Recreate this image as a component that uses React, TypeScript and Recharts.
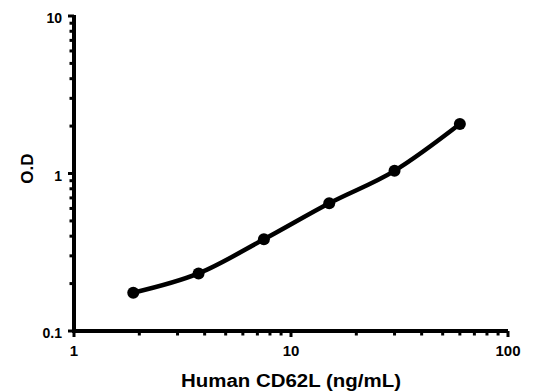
import React from 'react';
import { LineChart, Line, XAxis, YAxis } from 'recharts';

// standard curve: concentration (ng/mL) vs O.D, both on log scales
const concentrations = [1.875, 3.75, 7.5, 15, 30, 60];
const odValues = [0.175, 0.232, 0.382, 0.647, 1.04, 2.06];

const xTicks = [1, 2, 3, 4, 5, 6, 7, 8, 9, 10, 20, 30, 40, 50, 60, 70, 80, 90, 100];
const yTicks = [0.1, 0.2, 0.3, 0.4, 0.5, 0.6, 0.7, 0.8, 0.9, 1, 2, 3, 4, 5, 6, 7, 8, 9, 10];

const xTitle = 'Human CD62L (ng/mL)';
const yTitle = 'O.D';

const data = concentrations.map((c, i) => ({ conc: c, od: odValues[i] }));

const FONT = '"Liberation Sans", Arial, sans-serif';

// layout
const W = 547;
const H = 392;
const MARGIN = { top: 16, right: 39, left: 14, bottom: 21 };
const Y_AXIS_W = 60;
const X_AXIS_H = 40;
const plotLeft = MARGIN.left + Y_AXIS_W;
const plotRight = W - MARGIN.right;
const plotTop = MARGIN.top;
const plotBottom = H - MARGIN.bottom - X_AXIS_H;

const isDecade = (v: number) => {
  const l = Math.log10(v);
  return Math.abs(l - Math.round(l)) < 1e-6;
};

const XTick = ({ x, y, payload }: any) => {
  const major = isDecade(payload.value);
  return (
    <g>
      <line x1={x} y1={y} x2={x} y2={y + (major ? 6 : 4.5)} stroke="#000" strokeWidth={3} />
      {major && (
        <text x={x} y={y + 25} textAnchor="middle" fontFamily={FONT} fontWeight="bold" fontSize={15} fill="#000">
          {String(payload.value)}
        </text>
      )}
    </g>
  );
};

const YTick = ({ x, y, payload }: any) => {
  const major = isDecade(payload.value);
  return (
    <g>
      <line x1={x - (major ? 6 : 4.5)} y1={y} x2={x} y2={y} stroke="#000" strokeWidth={3} />
      {major && (
        <text x={x - 12} y={y + 7} textAnchor="end" fontFamily={FONT} fontWeight="bold" fontSize={14} fill="#000">
          {String(payload.value)}
        </text>
      )}
    </g>
  );
};

const XTitle = ({ viewBox }: any) => (
  <text
    x={viewBox.x + viewBox.width / 2}
    y={viewBox.y + 56}
    textAnchor="middle"
    fontFamily={FONT}
    fontWeight="bold"
    fontSize={18}
    textLength={220}
    lengthAdjust="spacingAndGlyphs"
    fill="#000"
  >
    {xTitle}
  </text>
);

const YTitle = ({ viewBox }: any) => {
  const cx = 33;
  const cy = viewBox.y + viewBox.height / 2 - 5;
  return (
    <text
      x={cx}
      y={cy}
      transform={`rotate(-90 ${cx} ${cy})`}
      textAnchor="middle"
      fontFamily={FONT}
      fontWeight="bold"
      fontSize={17}
      fill="#000"
    >
      {yTitle}
    </text>
  );
};

const App: React.FC = () => {
  return (
    <div style={{ position: 'absolute', left: 0, top: 0, width: W, height: H, background: '#fff' }}>
      <LineChart width={W} height={H} data={data} margin={MARGIN}>
        <XAxis
          dataKey="conc"
          type="number"
          scale="log"
          domain={[1, 100]}
          ticks={xTicks}
          interval={0}
          height={X_AXIS_H}
          tickSize={0}
          tickMargin={0}
          tickLine={false}
          axisLine={false}
          tick={<XTick />}
          label={{ content: <XTitle /> }}
        />
        <YAxis
          type="number"
          scale="log"
          domain={[0.1, 10]}
          ticks={yTicks}
          interval={0}
          width={Y_AXIS_W}
          tickSize={0}
          tickMargin={0}
          tickLine={false}
          axisLine={false}
          tick={<YTick />}
          label={{ content: <YTitle /> }}
        />
        <Line
          type="monotone"
          dataKey="od"
          stroke="#000"
          strokeWidth={4.5}
          dot={{ r: 6, fill: '#000', stroke: '#000', strokeWidth: 0 }}
          activeDot={false}
          isAnimationActive={false}
        />
      </LineChart>
      {/* heavy axis lines on top */}
      <svg width={W} height={H} style={{ position: 'absolute', left: 0, top: 0, pointerEvents: 'none' }}>
        <line x1={plotLeft} y1={plotTop - 1} x2={plotLeft} y2={plotBottom + 2} stroke="#000" strokeWidth={4} />
        <line x1={plotLeft - 2} y1={plotBottom} x2={plotRight} y2={plotBottom} stroke="#000" strokeWidth={4} />
      </svg>
    </div>
  );
};

export default App;
